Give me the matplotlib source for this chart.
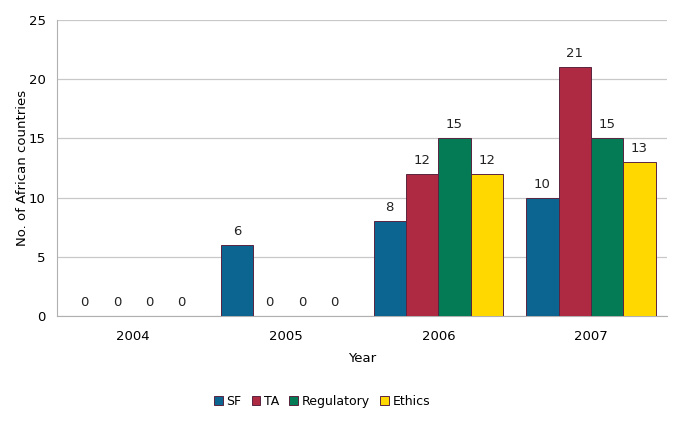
import numpy as np
import matplotlib.pyplot as plt

years = ['2004', '2005', '2006', '2007']
series = ['SF', 'TA', 'Regulatory', 'Ethics']
sf = [0, 6, 8, 10]
ta = [0, 0, 12, 21]
regulatory = [0, 0, 15, 15]
ethics = [0, 0, 12, 13]
colors = ['#0b6590', '#ae2942', '#047a55', '#ffd800']

plt.rcParams['font.family'] = 'DejaVu Sans'
fs = 9.5

fig = plt.figure(figsize=(6.85, 4.28), dpi=100)
ax = fig.add_axes([0.083, 0.262, 0.891, 0.691])

x = np.arange(len(years))
w = 0.212
for i, (vals, name) in enumerate(zip([sf, ta, regulatory, ethics], series)):
    pos = x + (i - 1.5) * w
    bars = ax.bar(pos, vals, w, color=colors[i], edgecolor='#5a2440',
                  linewidth=0.7, label=name, zorder=3)
    for b, v in zip(bars, vals):
        ax.annotate(str(v), (b.get_x() + b.get_width() / 2, v),
                    xytext=(0, 5), textcoords='offset points',
                    ha='center', va='bottom', fontsize=fs, color='#222222')

ax.set_xlim(-0.5, 3.5)
ax.set_ylim(0, 25)
ax.set_yticks(range(0, 26, 5))
ax.set_xticks(x)
ax.set_xticklabels(years)
ax.grid(axis='y', color='#c8c8c8', linewidth=0.9, zorder=0)
for s in ['top', 'right']:
    ax.spines[s].set_visible(False)
ax.spines['left'].set_color('#b0b0b0')
ax.spines['bottom'].set_color('#b0b0b0')
ax.tick_params(axis='both', length=0, labelsize=fs, pad=8)
ax.tick_params(axis='x', pad=10)
ax.set_xlabel('Year', fontsize=fs, labelpad=7)
ax.set_ylabel('No. of African countries', fontsize=fs, labelpad=0)

fig.legend(*ax.get_legend_handles_labels(), loc='center',
           bbox_to_anchor=(0.47, 0.063), ncol=4, frameon=False,
           handlelength=0.7, handleheight=0.7, handletextpad=0.3,
           columnspacing=0.8, fontsize=9)

plt.savefig('out.png', dpi=100)
